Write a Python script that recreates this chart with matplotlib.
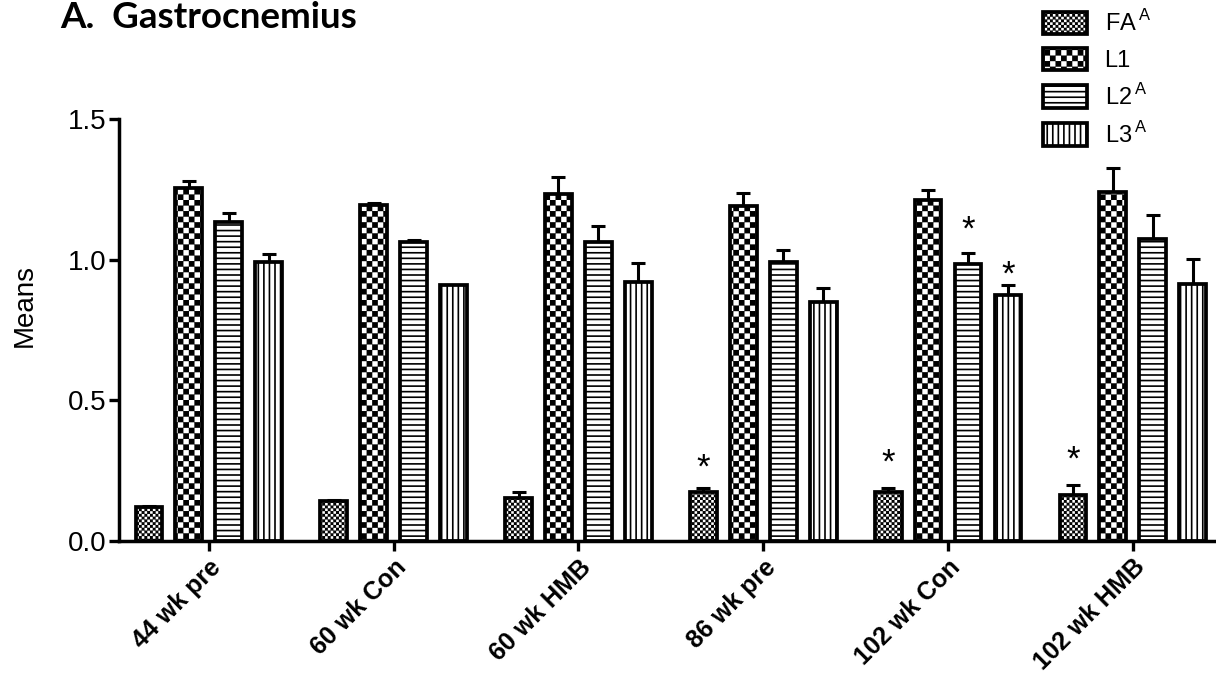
import warnings
import numpy as np
import matplotlib
matplotlib.use("Agg")
import matplotlib.pyplot as plt
import matplotlib.hatch as mhatch
from matplotlib.path import Path
from matplotlib.patches import Patch
from matplotlib.transforms import offset_copy

warnings.filterwarnings("ignore")

# data
groups = ["44 wk pre", "60 wk Con", "60 wk HMB", "86 wk pre", "102 wk Con", "102 wk HMB"]
series = ["FA", "L1", "L2", "L3"]
legend_labels = ["FA$^{\\,\\mathrm{A}}$", "L1", "L2$^{\\,\\mathrm{A}}$", "L3$^{\\,\\mathrm{A}}$"]

fa = [0.120, 0.142, 0.153, 0.174, 0.175, 0.165]
l1 = [1.255, 1.194, 1.234, 1.190, 1.212, 1.240]
l2 = [1.134, 1.063, 1.063, 0.990, 0.985, 1.074]
l3 = [0.990, 0.910, 0.920, 0.850, 0.874, 0.914]

fa_err = [0.006, 0.003, 0.021, 0.014, 0.013, 0.034]
l1_err = [0.025, 0.006, 0.060, 0.047, 0.036, 0.086]
l2_err = [0.032, 0.007, 0.057, 0.045, 0.039, 0.085]
l3_err = [0.030, 0.000, 0.068, 0.050, 0.036, 0.089]

# asterisks: group index, series index, height
star_group = [3, 4, 4, 4, 5]
star_series = [0, 0, 2, 3, 0]
star_y = [0.295, 0.313, 1.141, 0.981, 0.323]


# checkerboard hatch ('c' repeated), matplotlib has none built in
class Checker(mhatch.HatchPatternBase):
    def __init__(self, hatch, density):
        self.n = hatch.count("c") * density
        self.num_vertices = (self.n * self.n // 2) * 5

    def set_vertices_and_codes(self, vertices, codes):
        n = self.n
        s = 1.0 / n
        g = 0.0075
        k = 0
        for i in range(n):
            for j in range(n):
                if (i + j) % 2:
                    continue
                x0, y0 = i * s + g, j * s + g
                x1, y1 = (i + 1) * s - g, (j + 1) * s - g
                vertices[k:k + 5] = [(x0, y0), (x1, y0), (x1, y1), (x0, y1), (x0, y0)]
                codes[k:k + 5] = [Path.MOVETO, Path.LINETO, Path.LINETO, Path.LINETO, Path.CLOSEPOLY]
                k += 5


mhatch._hatch_types.append(Checker)

plt.rcParams["font.family"] = ["Liberation Sans", "DejaVu Sans"]
plt.rcParams["mathtext.fontset"] = "custom"
plt.rcParams["mathtext.rm"] = "Liberation Sans"
plt.rcParams["hatch.linewidth"] = 1.2
plt.rcParams["hatch.color"] = "black"

hatches = ["cccccc", "ccc", "---", "|||"]
values = [fa, l1, l2, l3]
errors = [fa_err, l1_err, l2_err, l3_err]

fig = plt.figure(figsize=(12.16, 6.74), dpi=100)
ax = fig.add_axes([119 / 1216, 1 - 541 / 674, 1 - 119 / 1216, (541 - 119) / 674])

x = np.arange(len(groups))
step = 0.216
width = 0.145
for k in range(len(series)):
    pos = x + (k - 1.5) * step
    ax.bar(pos, values[k], width, color="white", edgecolor="black", linewidth=2.7,
           hatch=hatches[k], zorder=2)
    ax.errorbar(pos, values[k], yerr=[np.zeros(len(groups)), errors[k]], fmt="none",
                ecolor="black", elinewidth=2.2, capsize=5, capthick=2.2, zorder=1)

star_fs = 25
star_tr = offset_copy(ax.transData, fig=fig, y=-0.575 * star_fs, units="points")
for g, s, yv in zip(star_group, star_series, star_y):
    ax.text(g + (s - 1.5) * step, yv, "*", ha="center", va="baseline",
            fontsize=star_fs, transform=star_tr)

ax.set_xlim(-0.486, 5.45)
ax.set_ylim(0, 1.5)
ax.set_yticks([0, 0.5, 1.0, 1.5])
ax.set_yticklabels(["0.0", "0.5", "1.0", "1.5"])
ax.set_xticks(x)
ax.set_xticklabels(groups, rotation=45, ha="right", rotation_mode="anchor",
                   fontweight="bold", fontsize=18)
ax.tick_params(axis="y", labelsize=20, length=7, width=2.4, pad=2)
ax.tick_params(axis="x", length=7, width=2.4, pad=3)
for side in ["top", "right"]:
    ax.spines[side].set_visible(False)
for side in ["left", "bottom"]:
    ax.spines[side].set_linewidth(2.5)
ax.spines["bottom"].set_zorder(3)

ax.set_ylabel("Means", fontsize=20)
ax.yaxis.set_label_coords(-0.0743, 0.559)

handles = [Patch(facecolor="white", edgecolor="black", linewidth=2.7, hatch=h) for h in hatches]
fig.legend(handles, legend_labels, loc="upper left", bbox_to_anchor=(1043 / 1216, 1 - 10 / 674),
           frameon=False, fontsize=17, handlelength=1.86, handleheight=1.1,
           handletextpad=0.75, labelspacing=0.5, borderpad=0, borderaxespad=0)

fig.text(60 / 1216, 1 - 28 / 674, "A.  Gastrocnemius", fontsize=26.5, fontweight="bold",
         family="Lato", va="baseline")

fig.savefig("out.png", dpi=100)
